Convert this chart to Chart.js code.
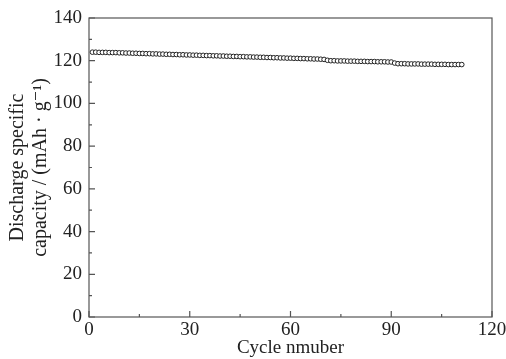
<!DOCTYPE html>
<html>
<head>
<meta charset="utf-8">
<script src="https://cdn.jsdelivr.net/npm/chart.js@4.4.0/dist/chart.umd.min.js"></script>
<style>
  html, body { margin: 0; padding: 0; background: #fff; }
  #wrap { width: 506px; height: 359px; }
</style>
</head>
<body>
<div id="wrap"><canvas id="c" width="506" height="359"></canvas></div>
<script>
// discharge capacity per cycle (mAh/g), cycles 1..111
const capacity = [
  124.0, 124.0, 123.9, 123.9, 123.9, 123.8, 123.8, 123.8, 123.7, 123.7,
  123.6, 123.6, 123.5, 123.5, 123.4, 123.4, 123.3, 123.3, 123.2, 123.2,
  123.1, 123.1, 123.0, 123.0, 122.9, 122.9, 122.8, 122.8, 122.7, 122.7,
  122.6, 122.6, 122.5, 122.5, 122.4, 122.4, 122.3, 122.3, 122.2, 122.2,
  122.1, 122.1, 122.0, 122.0, 121.9, 121.9, 121.8, 121.8, 121.7, 121.7,
  121.6, 121.6, 121.5, 121.5, 121.4, 121.4, 121.3, 121.3, 121.2, 121.2,
  121.1, 121.1, 121.0, 121.0, 120.9, 120.9, 120.8, 120.8, 120.7, 120.6,
  120.2, 120.0, 120.0, 119.9, 119.9, 119.9, 119.8, 119.8, 119.8, 119.7,
  119.7, 119.7, 119.6, 119.6, 119.6, 119.5, 119.5, 119.5, 119.4, 119.4,
  118.9, 118.6, 118.6, 118.6, 118.5, 118.5, 118.5, 118.5, 118.4, 118.4,
  118.4, 118.4, 118.3, 118.3, 118.3, 118.3, 118.2, 118.2, 118.2, 118.2, 118.2
];
const cycles = capacity.map((_, i) => i + 1);
const xTicks = [0, 30, 60, 90, 120];
const xMinorTicks = [15, 45, 75, 105];
const yTicks = [0, 20, 40, 60, 80, 100, 120, 140];
const yMinorTicks = [10, 30, 50, 70, 90, 110, 130];

const FONT = "'Liberation Serif', 'DejaVu Serif', serif";
const AXIS_COLOR = '#555';
const TEXT_COLOR = '#222';

// frame and inward ticks drawn from the chart's own scales
const frameTicks = {
    id: 'frameTicks',
    afterDraw(chart) {
        const { ctx, chartArea: a, scales } = chart;
        ctx.save();
        ctx.strokeStyle = AXIS_COLOR;
        ctx.lineWidth = 1.2;
        ctx.strokeRect(a.left, a.top, a.right - a.left, a.bottom - a.top);
        ctx.beginPath();
        xTicks.forEach(v => {
            const x = scales.x.getPixelForValue(v);
            ctx.moveTo(x, a.bottom); ctx.lineTo(x, a.bottom - 6);
        });
        xMinorTicks.forEach(v => {
            const x = scales.x.getPixelForValue(v);
            ctx.moveTo(x, a.bottom); ctx.lineTo(x, a.bottom - 3);
        });
        yTicks.forEach(v => {
            const y = scales.y.getPixelForValue(v);
            ctx.moveTo(a.left, y); ctx.lineTo(a.left + 6, y);
        });
        yMinorTicks.forEach(v => {
            const y = scales.y.getPixelForValue(v);
            ctx.moveTo(a.left, y); ctx.lineTo(a.left + 3, y);
        });
        ctx.stroke();
        ctx.restore();
    }
};

new Chart(document.getElementById('c'), {
    type: 'scatter',
    data: {
        datasets: [{
            data: cycles.map((c, i) => ({ x: c, y: capacity[i] })),
            pointStyle: 'circle',
            pointRadius: 2.3,
            pointBorderWidth: 1,
            pointBorderColor: '#222',
            pointBackgroundColor: '#fff',
            showLine: false
        }]
    },
    options: {
        responsive: false,
        animation: false,
        devicePixelRatio: 1,
        layout: { padding: { top: 18, right: 14, left: 0, bottom: 0 } },
        plugins: { legend: { display: false }, tooltip: { enabled: false } },
        scales: {
            x: {
                type: 'linear',
                min: 0, max: 120,
                afterBuildTicks: s => { s.ticks = xTicks.map(v => ({ value: v })); },
                afterFit: s => { s.height = 42; s.paddingLeft = 0; s.paddingRight = 0; },
                grid: { display: false, tickLength: 0 },
                border: { display: false },
                ticks: {
                    padding: 2,
                    color: TEXT_COLOR,
                    font: { family: FONT, size: 19 },
                    maxRotation: 0
                },
                title: {
                    display: true,
                    text: 'Cycle nmuber',
                    color: TEXT_COLOR,
                    font: { family: FONT, size: 19 },
                    padding: { top: 0, bottom: 0 }
                }
            },
            y: {
                type: 'linear',
                min: 0, max: 140,
                afterBuildTicks: s => { s.ticks = yTicks.map(v => ({ value: v })); },
                afterFit: s => { s.width = 89; s.paddingTop = 0; s.paddingBottom = 0; },
                grid: { display: false, tickLength: 0 },
                border: { display: false },
                ticks: {
                    padding: 7,
                    color: TEXT_COLOR,
                    font: { family: FONT, size: 19 }
                },
                title: {
                    display: true,
                    text: ['Discharge specific', 'capacity / (mAh · g\u207B\u00B9)'],
                    color: TEXT_COLOR,
                    font: { family: FONT, size: 20, lineHeight: 1.15 },
                    padding: { top: 6, bottom: 0 }
                }
            }
        }
    },
    plugins: [frameTicks]
});
</script>
</body>
</html>
